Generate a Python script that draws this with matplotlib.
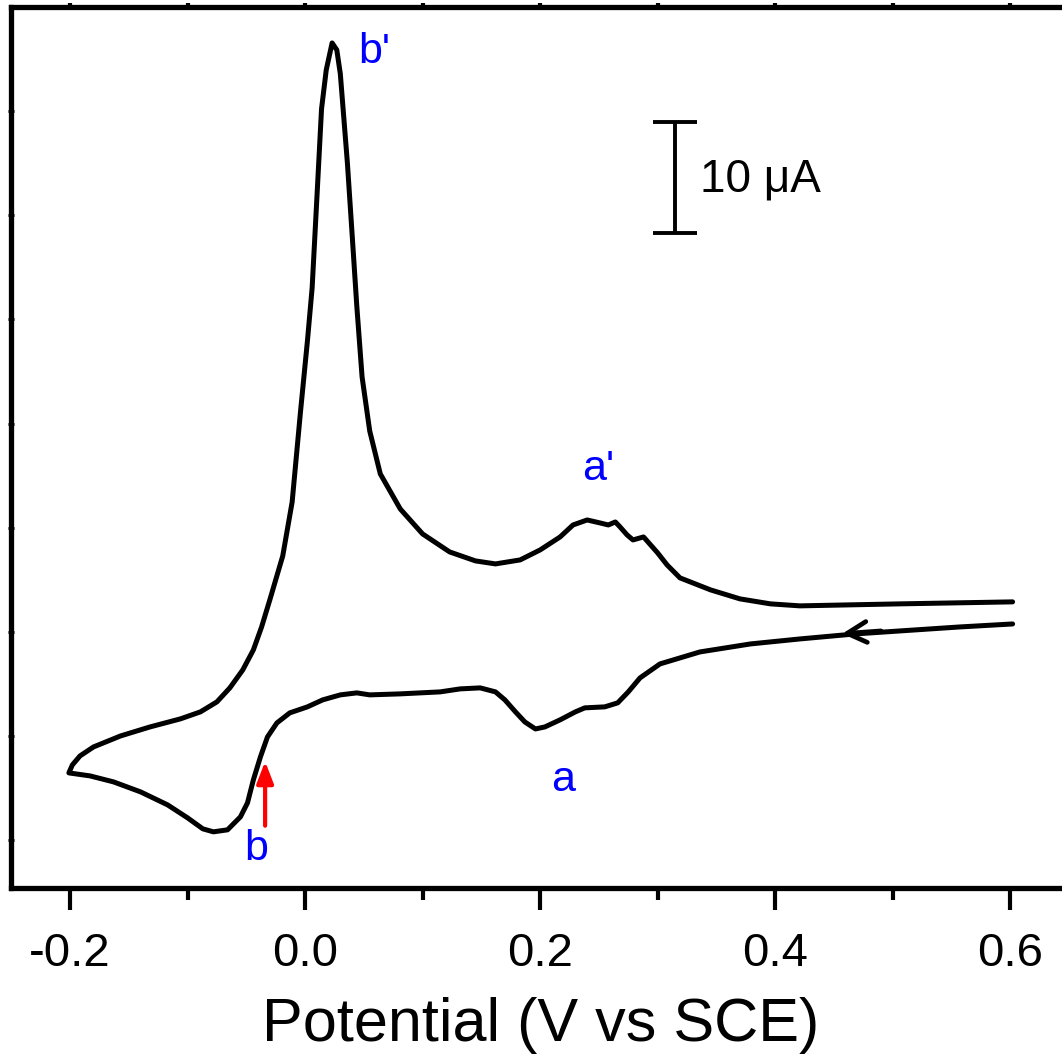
import matplotlib
matplotlib.use('Agg')
import matplotlib.pyplot as plt
import numpy as np
from matplotlib.ticker import MultipleLocator, FixedLocator, NullFormatter

plt.rcParams['font.family'] = ['Liberation Sans', 'DejaVu Sans']
plt.rcParams['axes.unicode_minus'] = False

# cathodic sweep, 0.6 V -> -0.2 V (lower branch)
E_cath = [0.602, 0.557, 0.506, 0.468, 0.421, 0.379, 0.336, 0.302, 0.285, 0.275,
          0.266, 0.255, 0.238, 0.230, 0.217, 0.204, 0.196, 0.187, 0.179, 0.170,
          0.162, 0.149, 0.132, 0.115, 0.081, 0.055, 0.044, 0.030, 0.015, 0.002,
          -0.013, -0.024, -0.032, -0.038, -0.044, -0.049, -0.055, -0.066, -0.078, -0.087,
          -0.100, -0.117, -0.140, -0.163, -0.183, -0.201]
I_cath = [23.78, 23.51, 23.15, 22.88, 22.43, 21.98, 21.26, 20.18, 18.92, 17.66,
          16.67, 16.31, 16.22, 15.86, 15.14, 14.50, 14.32, 14.95, 15.86, 16.94,
          17.66, 18.02, 17.93, 17.66, 17.48, 17.39, 17.57, 17.39, 16.94, 16.31,
          15.77, 14.86, 13.60, 11.80, 9.73, 7.66, 6.40, 5.23, 5.05, 5.32,
          6.31, 7.48, 8.65, 9.55, 10.09, 10.36]

# anodic sweep, -0.2 V -> 0.6 V (upper branch)
E_anod = [-0.201, -0.198, -0.1915, -0.180, -0.157, -0.132, -0.106, -0.089, -0.075, -0.064,
          -0.053, -0.044, -0.037, -0.030, -0.019, -0.011, -0.004, 0.002, 0.006, 0.010,
          0.014, 0.018, 0.023, 0.027, 0.030, 0.036, 0.040, 0.044, 0.0485, 0.055,
          0.064, 0.081, 0.100, 0.123, 0.145, 0.162, 0.183, 0.200, 0.217, 0.228,
          0.240, 0.251, 0.258, 0.264, 0.268, 0.274, 0.279, 0.288, 0.294, 0.300,
          0.308, 0.319, 0.345, 0.370, 0.396, 0.421, 0.506, 0.602]
I_anod = [10.36, 11.08, 11.89, 12.70, 13.69, 14.50, 15.23, 15.86, 16.76, 18.02,
          19.64, 21.44, 23.51, 25.95, 29.91, 34.77, 42.79, 49.28, 54.05, 62.07,
          70.18, 73.69, 76.13, 75.50, 73.33, 65.32, 58.92, 52.43, 46.04, 41.17,
          37.30, 34.14, 31.89, 30.27, 29.46, 29.19, 29.55, 30.45, 31.62, 32.70,
          33.15, 32.88, 32.70, 32.97, 32.52, 31.80, 31.35, 31.62, 30.90, 30.18,
          29.10, 27.93, 26.85, 26.04, 25.59, 25.41, 25.59, 25.77]

E = E_cath + E_anod[1:]
I = I_cath + I_anod[1:]

# peak labels
peak_labels = ["b'", "a'", "a", "b"]
peak_E = [0.045, 0.236, 0.2196, -0.042]
peak_I = [75.3, 37.7, 9.73, 3.5]
peak_ha = ['left', 'left', 'center', 'center']

fig = plt.figure(figsize=(10.62, 10.57), dpi=100)
ax = fig.add_axes([0.0106, 0.160, 0.996, 0.8334])

ax.plot(E, I, color='black', lw=3.6, solid_joinstyle='round', solid_capstyle='round')

# sweep direction arrow on the cathodic branch
ax.annotate('', xy=(0.457, 22.9), xytext=(0.49, 23.15),
            arrowprops=dict(arrowstyle='->, head_length=1.4, head_width=0.75',
                            color='black', lw=3.4, shrinkA=0, shrinkB=0))

# red arrow marking onset of b
ax.annotate('', xy=(-0.034, 11.4), xytext=(-0.034, 5.6),
            arrowprops=dict(arrowstyle='-|>, head_length=1.3, head_width=0.5',
                            color='red', lw=3, shrinkA=0, shrinkB=0))

for lab, xe, yi, ha in zip(peak_labels, peak_E, peak_I, peak_ha):
    ax.text(xe, yi, lab, color='blue', fontsize=31, ha=ha, va='center')

# 10 uA scale bar
ax.errorbar([0.315], [64.0], yerr=5.0, color='black', lw=2.8, capsize=16, capthick=2.8)
ax.text(0.336, 63.8, '10 μA', fontsize=33, ha='left', va='center')

ax.set_xlim(-0.25, 0.65)
ax.set_ylim(0, 79.37)

ax.set_xlabel('Potential (V vs SCE)', fontsize=44, labelpad=15)

ax.xaxis.set_major_locator(MultipleLocator(0.2))
ax.xaxis.set_minor_locator(MultipleLocator(0.1))
ax.xaxis.set_major_formatter('{x:.1f}')
ax.tick_params(axis='x', which='major', direction='out', length=16, width=3,
               labelsize=34, pad=16, top=True)
ax.tick_params(axis='x', which='minor', direction='out', length=8.5, width=3, top=True)

ax.yaxis.set_major_locator(FixedLocator(np.arange(4.32, 75, 9.38)))
ax.yaxis.set_major_formatter(NullFormatter())
ax.tick_params(axis='y', which='major', direction='inout', length=4, width=2)

# top spine only carries tiny marks
for t in ax.xaxis.get_major_ticks() + ax.xaxis.get_minor_ticks():
    t.tick2line.set_markersize(3)

for s in ax.spines.values():
    s.set_linewidth(3.8)

fig.savefig('out.png', dpi=100)
